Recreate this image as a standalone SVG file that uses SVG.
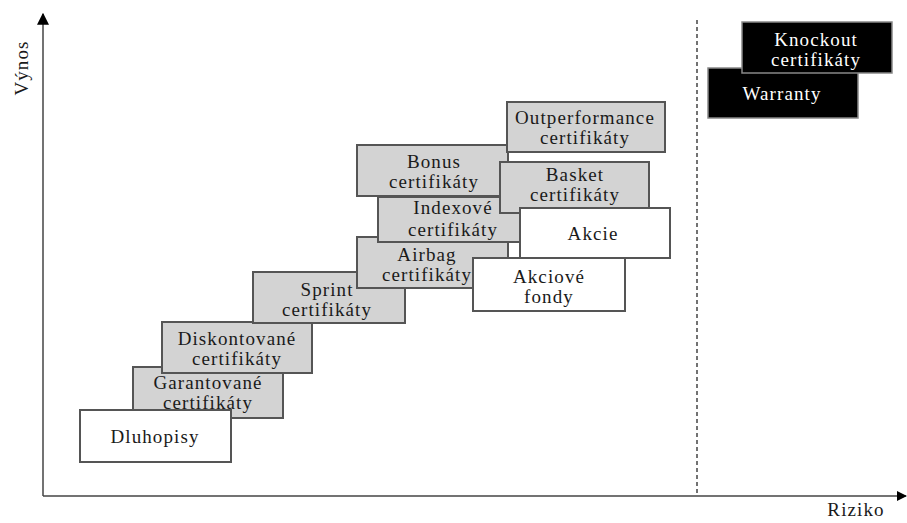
<svg xmlns="http://www.w3.org/2000/svg" width="907" height="523" viewBox="0 0 907 523">
<style>
.g rect{fill:#d3d3d3;stroke:#555;stroke-width:2}
.w rect{fill:#fff;stroke:#555;stroke-width:2}
.b rect{fill:#000;stroke:#888;stroke-width:1.5}
text{font-family:"Liberation Serif","Times New Roman",serif;font-size:19px;letter-spacing:1.1px;fill:#1a1a1a;text-anchor:middle}
.b text{fill:#fff}
.ax{stroke:#444;stroke-width:1.5;fill:none}
</style>
<defs>
<marker id="ah" viewBox="0 0 10 10" refX="9" refY="5" markerWidth="10" markerHeight="10" markerUnits="userSpaceOnUse" orient="auto"><path d="M0,0L10,5L0,10z" fill="#000"/></marker>
<marker id="ahv" viewBox="0 0 10 10" refX="9" refY="5" markerWidth="12" markerHeight="14" markerUnits="userSpaceOnUse" orient="auto"><path d="M0,0L10,5L0,10z" fill="#000"/></marker>
</defs>
<g id="connectors">
<line class="ax" x1="43" y1="496" x2="43" y2="14" marker-end="url(#ahv)"/>
<line class="ax" x1="43" y1="496" x2="906" y2="496" marker-end="url(#ah)"/>
<line x1="697" y1="20" x2="697" y2="496" stroke="#444" stroke-width="1.5" stroke-dasharray="4,3"/>
</g>
<text x="22" y="68" transform="rotate(-90 22 68)" dy="6">Výnos</text>
<text x="856" y="516">Riziko</text>
<g id="garantovane" class="g"><rect x="133" y="367" width="150" height="51"/><text x="208" y="389">Garantované</text><text x="208" y="409">certifikáty</text></g>
<g id="dluhopisy" class="w"><rect x="80" y="410" width="151" height="52"/><text x="155" y="443">Dluhopisy</text></g>
<g id="diskontovane" class="g"><rect x="162" y="322" width="150" height="51"/><text x="237" y="345">Diskontované</text><text x="237" y="365">certifikáty</text></g>
<g id="sprint" class="g"><rect x="253" y="272" width="152" height="51"/><text x="327" y="296">Sprint</text><text x="327" y="316">certifikáty</text></g>
<g id="airbag" class="g"><rect x="357" y="237" width="151" height="51"/><text x="427" y="261">Airbag</text><text x="427" y="281">certifikáty</text></g>
<g id="bonus" class="g"><rect x="357" y="145" width="151" height="51"/><text x="434" y="168">Bonus</text><text x="434" y="188">certifikáty</text></g>
<g id="outperformance" class="g"><rect x="507" y="102" width="158" height="50"/><text x="585" y="124">Outperformance</text><text x="585" y="144">certifikáty</text></g>
<g id="indexove" class="g"><rect x="378" y="197" width="142" height="45"/><text x="453" y="214">Indexové</text><text x="453" y="236">certifikáty</text></g>
<g id="basket" class="g"><rect x="500" y="162" width="149" height="51"/><text x="575" y="181">Basket</text><text x="575" y="201">certifikáty</text></g>
<g id="akcie" class="w"><rect x="520" y="208" width="150" height="50"/><text x="593" y="240">Akcie</text></g>
<g id="akciove-fondy" class="w"><rect x="473" y="258" width="152" height="53"/><text x="549" y="283">Akciové</text><text x="549" y="303">fondy</text></g>
<g id="warranty" class="b"><rect x="708" y="68" width="150" height="50"/><text x="782" y="100">Warranty</text></g>
<g id="knockout" class="b"><rect x="742" y="22" width="150" height="51"/><text x="816" y="46">Knockout</text><text x="816" y="66">certifikáty</text></g>
</svg>
